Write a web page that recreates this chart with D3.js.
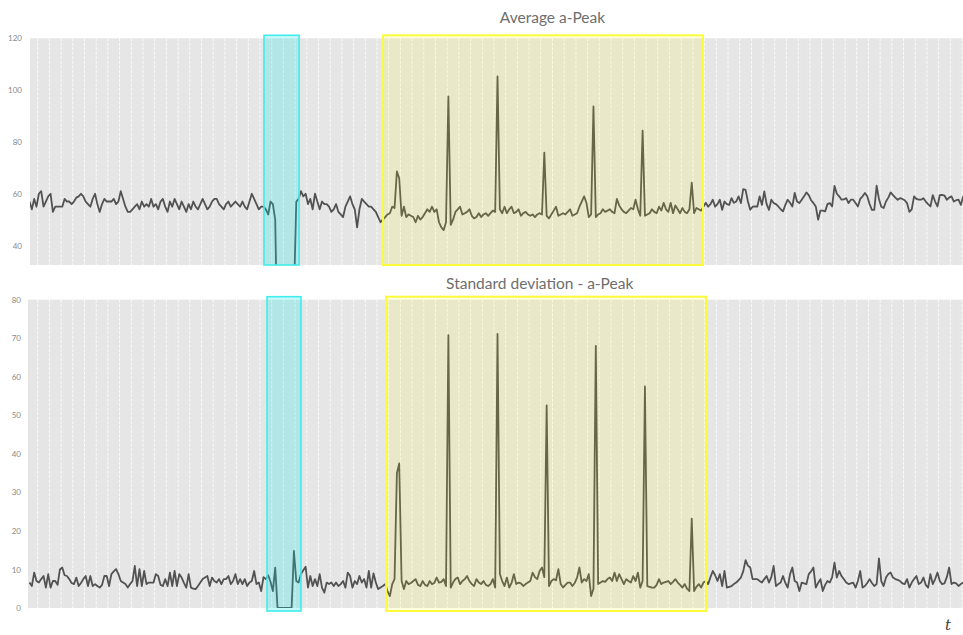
<!DOCTYPE html>
<html><head><meta charset="utf-8">
<script src="https://cdn.jsdelivr.net/npm/d3@7"></script>
<style>body{margin:0;background:#fff} svg{display:block}</style>
</head><body><svg id="c" width="963" height="635"></svg>
<script>
// ---------------- data ----------------
const titles = ["Average a-Peak", "Standard deviation - a-Peak"];
const avgTicks = [40, 60, 80, 100, 120];
const stdTicks = [0, 10, 20, 30, 40, 50, 60, 70, 80];
const avgDomain = [32.5, 120];
const stdDomain = [0, 80];
const axisLabel = "t";

const avgValues = [
57,54,58,55,60,61,55,57,59,60,
53,55,55,55,55,58,57,57,56,57,
58.5,59,60,59,57,56,55,58,60,56,
53,56,58,57,57,57,58,56,57,61,
58,55,53,53,54,55,56,54,57,55,
56,55,58,55,56,54,57,58,55,53,
57,55,58,56,54,57,55,53,56,54,
57,55,54,56,58,56,54,55,57,58,
58,56,55,54,56,57,55,56,57,56,
55,57,55,54,57,60,58,56,54,55,
55,54,52,57,56,50,0,0,0,0,
0,0,0,20,57,58,61,59,60,56,
58,54,60,57,54,57,56,56,55,53,
54,56,53,52,51,55,57,59,56,54,
47,54,58,57,56,55,55,54,53,51,
49,50,51,52,52.5,55,54.5,68.6,66,51.5,
55,51,52,51.5,51,49,51.5,50,51,52.5,
54,53,55,53,54,49,47,46,49,97.6,
48,50,53,54,55,52,52.5,53,54,51.5,
50.5,51,52.5,51,52,52.5,51.5,52.5,53.5,53,
105.3,54,52.5,55,52.5,54,55,52.5,53,54,
51.5,52.5,53,52,51.5,52,51,52,52.5,52,
75.9,51.5,50.5,52,53.5,55,51.5,52,52.5,52,
53,54,51.5,52,52.5,55,57,59,56.5,51,
52,93.7,51,52,52.5,54,53,53.5,54,53,
52.5,58,55.5,54,53,52.5,53.5,54.5,54,57.7,
54,51.5,84.4,51.5,52,52.5,54,53,52.5,55,
53.5,56.5,54,53,56.5,52.5,55.5,54,52.5,54.5,
53,52.5,54,64.3,52.5,54.5,54,53.5,55,56.5,
55,56,57.7,55,56,57.7,53.8,57,56,55.7,
58.3,56.5,57,59,56.4,61.8,61.5,57,53.8,55,
55.1,55,59,55.7,60.9,56,53.8,57.7,56.4,56,
55.1,54,53.2,55.7,57.7,56.5,55.1,60.3,57,56.4,
57.7,59,60.5,59.5,57.5,56.4,55.1,50,53.5,53.5,
53.2,56,56.4,55.1,63,60,59,57.7,57.8,58.3,
56.4,57.7,57.7,56.4,55.1,58,59,60.3,59,56,
53.8,53.8,63.1,58,55,54.5,57,58.5,60.5,59.5,
58.5,57.7,58.3,58,57.5,56.4,53,54,59,58,
57.7,57.7,58.3,57,56,55.1,59.5,57,55.1,59.5,
59.6,59.3,57.7,58.5,59,57,57.5,57.7,55.7,59
];

const stdValues = [
6.6,5.7,9.2,7,6.6,7.5,8.3,5.3,8.8,5.3,
7,7,6,10,10.5,8.5,8.3,7.5,6.5,6.2,
7.9,5.7,6.5,7.5,8.3,5.7,8.3,5.7,6.2,5.7,
5.3,6,8.3,8.3,5.7,8.8,9.5,10.1,8.8,7,
6.6,6.2,5.3,6.2,7,10.9,5.7,10.1,5.7,9.6,
6.2,6.6,6.6,6.6,8.8,8.3,6,5.7,7.5,5.7,
9.2,5.7,9.6,5.7,8.8,7.9,6.5,5.3,8.8,5.3,
5,4.9,5.7,6.6,7.5,7.9,8.3,5.7,7.9,7,
6.6,7.5,6.2,7.5,7.5,8.3,6.2,7,8.8,6.2,
7.5,6.2,7.5,5.7,6.6,7,9.6,6.2,6.6,4.4,
8,7.5,8.5,6.8,4.4,10.5,0,0,0,0,
0,0,0,14.8,7,6.6,8.8,9.8,10.7,5.3,
8.3,5.7,7.5,5.7,8.8,5.3,4,6.6,6.2,6.6,
5.7,6.6,5.7,6.2,7,5.3,9.2,8.3,5.3,7,
6.2,8.3,6.6,7.5,5.3,9.6,5.3,9,6.6,4.9,
5.3,5.7,6.2,4.4,3.1,6.2,7.5,35,37.5,7,
4.9,7,6.2,6.5,7,7.5,6,5.7,7,6,
5.7,7,6.2,6.5,7.9,6.6,6.8,7.5,5.7,70.8,
5.3,6.6,7.5,7.9,6.2,7,7.5,8.3,7,6.2,
5.7,7.5,6.6,6.2,7,6,5.7,6.2,7.5,5.3,
71.1,8.8,7,5.7,7.9,5.3,6.5,8.8,6.2,6.6,
6.4,5.7,6.2,6.6,7,9.2,8,7.5,9.6,10.5,
8,52.6,5.7,7,7.5,7.2,10.1,6.2,5.3,6,
6.6,6.6,5.7,6.5,7.9,10.5,6.6,7.5,7,8.8,
3.1,5,68,6.2,6.6,7,6.8,7.5,7.9,7,
9.2,7,8.8,7.5,6.2,7.5,7,6.6,8.3,7,
9.2,5.3,7,57.5,5.7,5.5,5.3,5.3,6,7.5,
6.2,6.6,6.8,7,6.2,6.8,7.5,6.6,6,5.3,
6.2,5,4.4,23.2,4.4,5.5,6.2,5.3,6.6,7,
6.2,8,9.6,8.5,7,8.8,5.7,9.6,5.3,5.5,
5.7,6.2,6.6,7.2,7.9,9.5,12.4,11,10.5,7.5,
7.5,7.5,7,6.6,7.5,8.3,6.6,8,10.9,5.7,
6.2,6.6,8.3,6.5,5.3,8.8,10.5,7,6.6,4.4,
6.6,6.4,6.2,8.8,9.5,10.5,5.3,6.5,7.5,4.4,
6,7,6.6,8,11.8,7.9,9.6,8.3,7.5,6.6,
6.2,6.4,6.6,5.3,7,9.6,5.3,5.7,6.5,7.5,
6.5,5.7,6.2,12.9,7,5.7,7.9,8.8,9.2,7.9,
7.5,7.3,7,6.4,6.2,7.5,5.3,6.6,7.5,8.3,
6.2,6.6,7.9,6,5.3,8.8,6.2,7.5,9.2,7,
6.2,6.4,8,10.5,6.2,6.6,6.4,5.7,6.2,6.6
];

// highlighted index ranges (in sample units) for each panel
const avgHighlights = [[100.2, 115.2, "cyan"], [151.1, 287.8, "yellow"]];
const stdHighlights = [[101.5, 116.0, "cyan"], [152.4, 289.1, "yellow"]];

// ---------------- drawing ----------------
const svg = d3.select("#c");
const FONT = "Lato, 'Open Sans', sans-serif";
const boxStyle = {
  cyan:   {fill: "rgba(0,230,230,0.22)", stroke: "#40ecec", sw: 1.6},
  yellow: {fill: "rgba(255,255,0,0.12)", stroke: "#fbfb3c", sw: 2}
};

const panels = [
  {values: avgValues, ticks: avgTicks, domain: avgDomain, hl: avgHighlights, title: titles[0],
   left: 30, right: 963, top: 38.3, bottom: 265, tx: 552.5, ty: 23.3, padTop: 3, padBot: 0, labelX: 22},
  {values: stdValues, ticks: stdTicks, domain: stdDomain, hl: stdHighlights, title: titles[1],
   left: 28, right: 963, top: 299.7, bottom: 608, tx: 539.7, ty: 289.2, padTop: 3, padBot: 3, labelX: 21}
];

panels.forEach((p, k) => {
  const n = p.values.length;
  const x = d3.scaleLinear().domain([0, n - 1]).range([29.5, 963.2]);
  const y = d3.scaleLinear().domain(p.domain).range([p.bottom, p.top]);
  const g = svg.append("g");

  g.append("rect").attr("x", p.left).attr("y", p.top)
    .attr("width", p.right - p.left).attr("height", p.bottom - p.top)
    .attr("fill", "#e5e5e5");

  // faint minor vertical lines
  g.append("g").selectAll("line").data(d3.range(0.5, n, 1)).join("line")
    .attr("x1", d => x(d)).attr("x2", d => x(d))
    .attr("y1", p.top).attr("y2", p.bottom)
    .attr("stroke", "#ffffff").attr("stroke-opacity", 0.22)
    .attr("stroke-dasharray", "1,1").attr("stroke-width", 0.8);

  // major vertical grid lines
  g.append("g").selectAll("line").data(d3.range(3.5, n, 5)).join("line")
    .attr("x1", d => x(d)).attr("x2", d => x(d))
    .attr("y1", p.top).attr("y2", p.bottom)
    .attr("stroke", "#ffffff").attr("stroke-opacity", 0.85)
    .attr("stroke-dasharray", "3,1.5").attr("stroke-width", 1);

  const clipId = "clip" + k;
  svg.append("clipPath").attr("id", clipId).append("rect")
    .attr("x", p.left).attr("y", p.top)
    .attr("width", p.right - p.left).attr("height", p.bottom - p.top);

  const line = d3.line().x((d, i) => x(i)).y(d => y(d));
  g.append("path").datum(p.values)
    .attr("clip-path", `url(#${clipId})`)
    .attr("d", line).attr("fill", "none")
    .attr("stroke", "#525252").attr("stroke-width", 1.8)
    .attr("stroke-linejoin", "round");

  // highlight boxes
  g.append("g").selectAll("rect").data(p.hl).join("rect")
    .attr("x", d => x(d[0])).attr("width", d => x(d[1]) - x(d[0]))
    .attr("y", p.top - p.padTop).attr("height", p.bottom - p.top + p.padTop + p.padBot)
    .attr("fill", d => boxStyle[d[2]].fill)
    .attr("stroke", d => boxStyle[d[2]].stroke)
    .attr("stroke-width", d => boxStyle[d[2]].sw);

  // y axis
  const ax = g.append("g").attr("transform", `translate(${p.labelX + 8},0)`)
    .call(d3.axisLeft(y).tickValues(p.ticks).tickSize(0).tickPadding(8).tickFormat(d3.format("d")));
  ax.select(".domain").remove();
  ax.selectAll("text").attr("font-family", FONT).attr("font-size", 8).attr("fill", "#888888");

  // title
  g.append("text").attr("x", p.tx).attr("y", p.ty).attr("text-anchor", "middle")
    .attr("font-family", FONT).attr("font-size", 15.5).attr("fill", "#6e6e6e")
    .text(p.title);
});

svg.append("text").attr("x", 948).attr("y", 630).attr("text-anchor", "middle")
  .attr("font-family", "'DejaVu Serif', 'Liberation Serif', serif")
  .attr("font-style", "italic").attr("font-size", 15).attr("fill", "#404040")
  .text(axisLabel);
</script></body></html>
